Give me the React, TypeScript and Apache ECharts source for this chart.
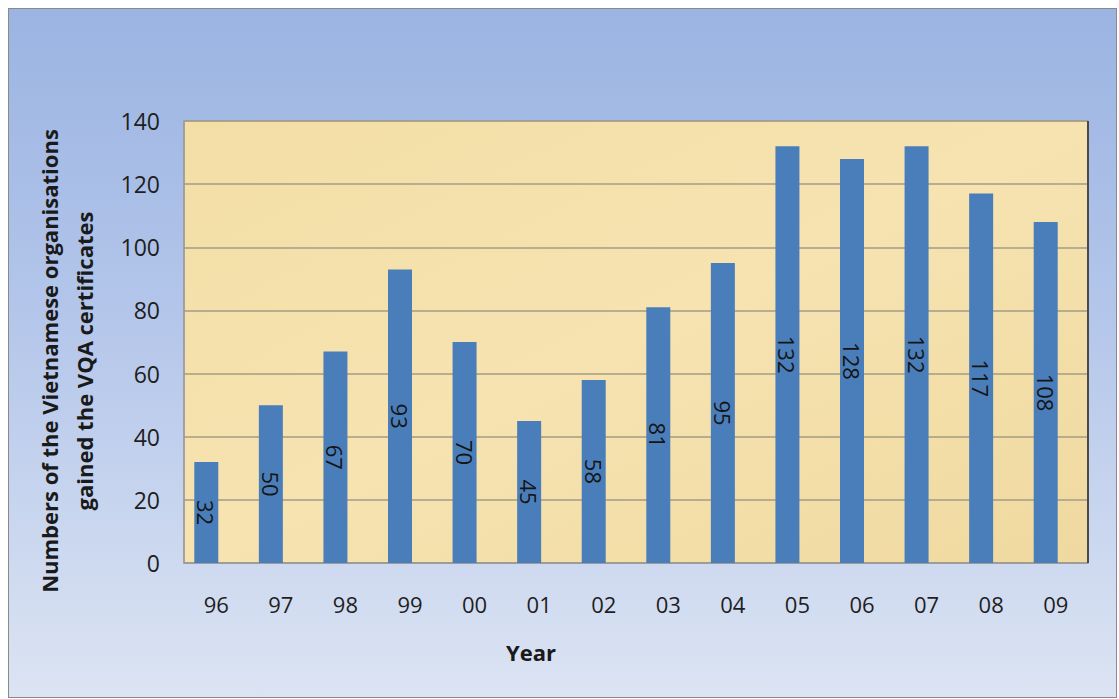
import React, { useEffect, useRef } from "react";
import * as echarts from "echarts";

const years = ["96", "97", "98", "99", "00", "01", "02", "03", "04", "05", "06", "07", "08", "09"];
const certificates = [32, 50, 67, 93, 70, 45, 58, 81, 95, 132, 128, 132, 117, 108];
const yTicks = { min: 0, max: 140, interval: 20 };
const yTitleLines = ["Numbers of the Vietnamese organisations", "gained the VQA certificates"];
const xTitle = "Year";

const FONT = "'Open Sans', 'Noto Sans', sans-serif";

export default function App() {
  const ref = useRef<HTMLDivElement>(null);

  useEffect(() => {
    if (!ref.current) return;
    const chart = echarts.init(ref.current, null, { renderer: "svg" });
    const grid = { left: 175, top: 112, width: 904, height: 442 };

    chart.setOption({
      animation: false,
      backgroundColor: "transparent",
      grid: {
        ...grid,
        show: true,
        backgroundColor: {
          type: "linear",
          x: 0,
          y: 0,
          x2: 1,
          y2: 1,
          colorStops: [
            { offset: 0, color: "#f3dea6" },
            { offset: 0.5, color: "#f6e3b0" },
            { offset: 1, color: "#f0d9a0" },
          ],
        },
        borderColor: "#9a9a9a",
        borderWidth: 1,
      },
      xAxis: {
        type: "category",
        data: years,
        axisLine: { lineStyle: { color: "#9a9a9a", width: 1.5 } },
        axisTick: { show: false },
        axisLabel: { color: "#1e1e1e", fontSize: 22, fontFamily: FONT, margin: 30 },
      },
      yAxis: {
        type: "value",
        min: yTicks.min,
        max: yTicks.max,
        interval: yTicks.interval,
        axisLine: { show: true, lineStyle: { color: "#9a9a9a", width: 1.5 } },
        axisTick: { show: false },
        axisLabel: { color: "#1e1e1e", fontSize: 23, fontFamily: FONT, margin: 24 },
        splitLine: { lineStyle: { color: "#a39c84", width: 1.5 } },
      },
      series: [
        {
          type: "bar",
          data: certificates,
          barWidth: 24,
          barGap: "-16.7%",
          itemStyle: { color: "#4a7ebb" },
          label: {
            show: true,
            position: "inside",
            rotate: -90,
            color: "#151515",
            fontSize: 22,
            fontFamily: FONT,
          },
        },
        {
          type: "bar",
          data: years.map(() => null),
          barWidth: 24,
          itemStyle: { color: "transparent" },
        },
      ],
      graphic: [
        {
          type: "line",
          shape: {
            x1: grid.left + grid.width,
            y1: grid.top,
            x2: grid.left + grid.width,
            y2: grid.top + grid.height,
          },
          style: { stroke: "#4a4a4a", lineWidth: 2 },
          z: 10,
        },
        {
          type: "text",
          x: 57,
          y: 352,
          rotation: Math.PI / 2,
          style: {
            text: yTitleLines.join("\n"),
            fontSize: 22,
            fontWeight: "bold",
            fontFamily: FONT,
            fill: "#1a1a1a",
            textAlign: "center",
            textVerticalAlign: "middle",
            lineHeight: 35,
          },
        },
        {
          type: "text",
          x: 522,
          y: 643,
          style: {
            text: xTitle,
            fontSize: 22,
            fontWeight: "bold",
            fontFamily: FONT,
            fill: "#1a1a1a",
            textAlign: "center",
            textVerticalAlign: "middle",
          },
        },
      ],
    });

    return () => chart.dispose();
  }, []);

  return (
    <div
      ref={ref}
      style={{
        position: "fixed",
        left: 8,
        top: 8,
        width: 1107,
        height: 688,
        border: "1px solid #8a8a8a",
        background: "linear-gradient(to bottom, #9bb4e2 0%, #b4c6ea 45%, #dce4f3 100%)",
      }}
    />
  );
}
